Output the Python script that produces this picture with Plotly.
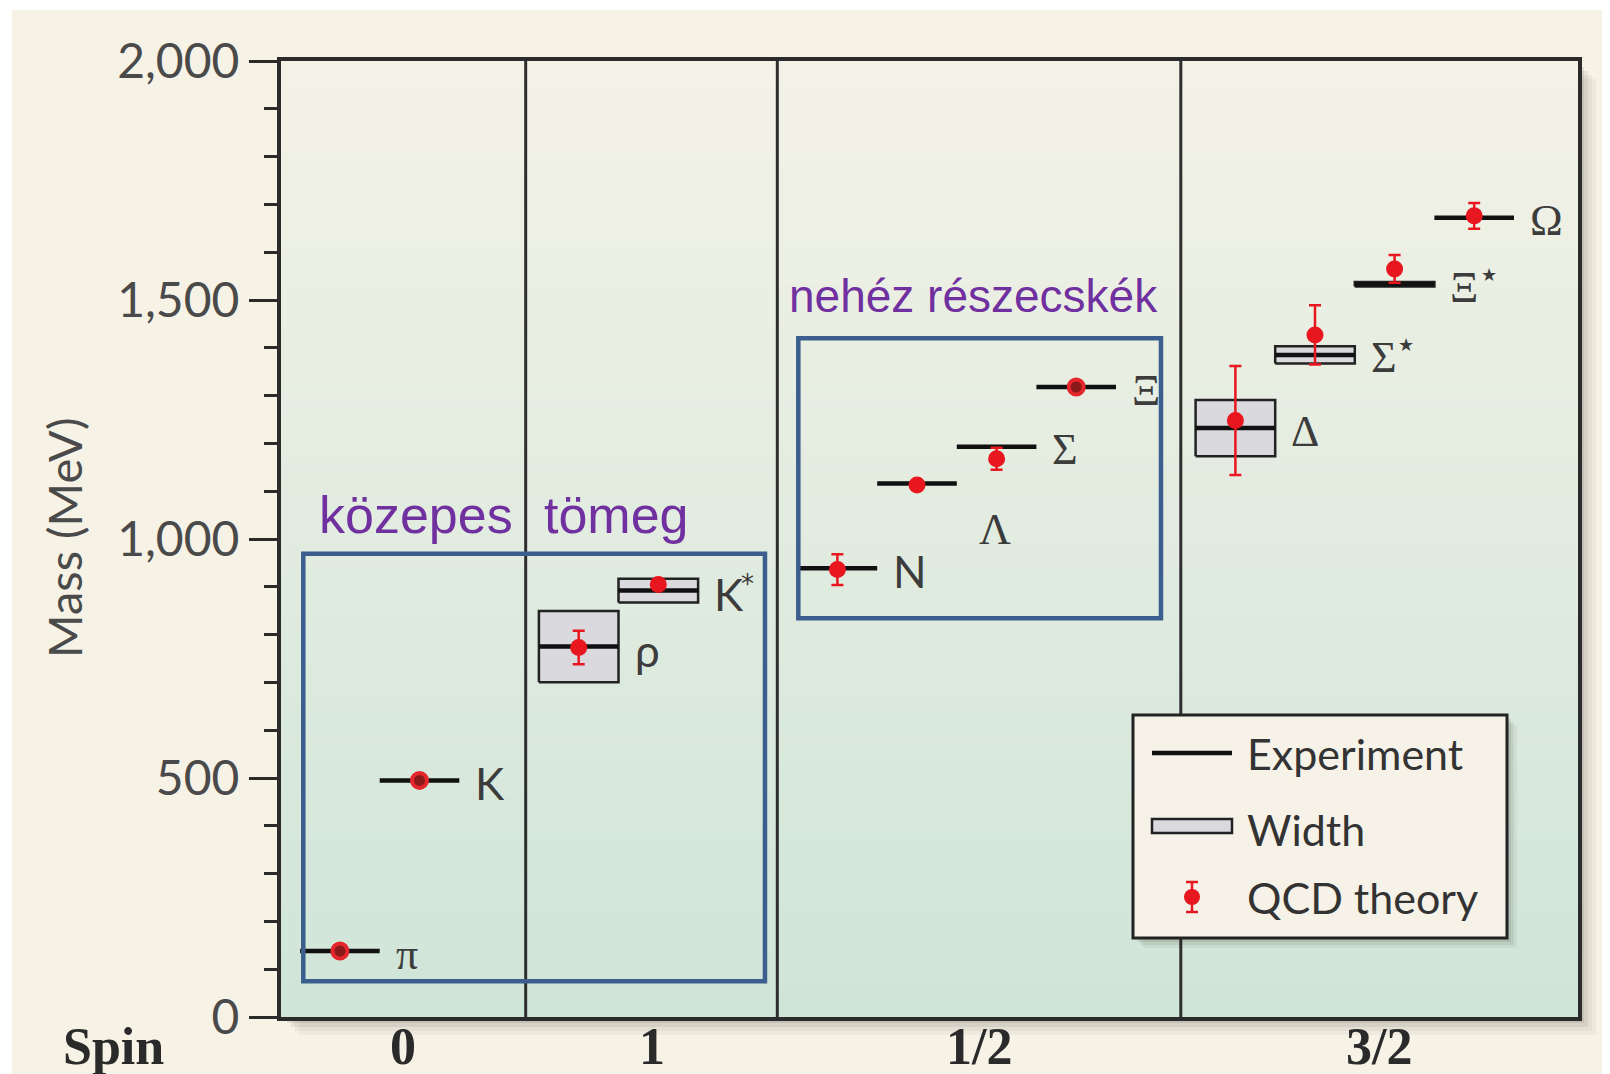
import plotly.graph_objects as go

# ---------------- data ----------------
particles = ["π", "K", "ρ", "K*", "N", "Λ", "Σ", "Ξ", "Δ", "Σ*", "Ξ*", "Ω"]
slot_pos = [0, 1, 3, 4, 6.25, 7.25, 8.25, 9.25, 11.25, 12.25, 13.25, 14.25]
exp_mass = [138, 495, 775, 892, 939, 1116, 1193, 1318, 1232, 1385, 1533, 1672]
exp_width = [0, 0, 149, 50, 0, 0, 0, 0, 118, 36, 9, 0]
qcd_mass = [138, 495, 773, 905, 936, 1113, 1168, 1318, 1248, 1427, 1565, 1676]
qcd_err = [0, 0, 35, 0, 32, 0, 23, 0, 114, 62, 29, 27]
ring_particles = ["π", "K", "Ξ"]
serif_labels = ["π", "Λ", "Σ", "Ξ", "Δ", "Σ*", "Ξ*", "Ω"]

spin_labels = ["0", "1", "1/2", "3/2"]
spin_dividers = [2.334, 5.495, 10.564]
x_range = [-0.74, 15.554]
y_range = [0, 2000]

legend_labels = ["Experiment", "Width", "QCD theory"]

# figure geometry (screen pixels; page body adds an 8px offset)
W, H = 1610, 1074
OFF = 8
SL, SR, ST, SB = 281, 1578, 61, 1017


def PX(x):
    return (x - SL) / (SR - SL)


def PY(y):
    return (SB - y) / (SB - ST)


HALF = 0.5

fig = go.Figure()

# width boxes
bx, by = [], []
for xc, m, w in zip(slot_pos, exp_mass, exp_width):
    if w > 0:
        bx += [xc - HALF, xc + HALF, xc + HALF, xc - HALF, xc - HALF, None]
        by += [m - w / 2, m - w / 2, m + w / 2, m + w / 2, m - w / 2, None]
fig.add_trace(go.Scatter(x=bx, y=by, mode="lines", fill="toself",
                         fillcolor="#D9D9DE", line=dict(color="#222222", width=2.5),
                         hoverinfo="skip", showlegend=False))

# experiment lines
lx, ly = [], []
for xc, m in zip(slot_pos, exp_mass):
    lx += [xc - HALF, xc + HALF, None]
    ly += [m, m, None]
fig.add_trace(go.Scatter(x=lx, y=ly, mode="lines",
                         line=dict(color="#111111", width=4.5),
                         hoverinfo="skip", showlegend=False))

# QCD theory (filled dots with error bars, rings for the input states)
fx, fy, fe = [], [], []
rx, ry = [], []
for p, xc, m, e in zip(particles, slot_pos, qcd_mass, qcd_err):
    if p in ring_particles:
        rx.append(xc)
        ry.append(m)
    else:
        fx.append(xc)
        fy.append(m)
        fe.append(e)
RED = "#E8161E"
fig.add_trace(go.Scatter(x=fx, y=fy, mode="markers",
                         marker=dict(color=RED, size=17, line=dict(width=0)),
                         error_y=dict(type="data", array=fe, visible=True,
                                      color=RED, thickness=2.5, width=6),
                         showlegend=False))
fig.add_trace(go.Scatter(x=rx, y=ry, mode="markers",
                         marker=dict(color="#8A1A1A", size=15, symbol="circle",
                                     line=dict(width=4, color="#E5262C")),
                         showlegend=False))

shapes = []
# cream paper background (white border at top/left)
shapes.append(dict(type="rect", xref="paper", yref="paper",
                   x0=PX(12), x1=PX(W + 30), y0=PY(H + 30), y1=PY(10),
                   fillcolor="#F6F2E6", line=dict(width=0), layer="below"))
# plot shadow
for off, a in [(18, 0.04), (14, 0.05), (10, 0.07), (6, 0.09), (3, 0.12)]:
    shapes.append(dict(type="rect", xref="paper", yref="paper",
                       x0=PX(SL + off), x1=PX(SR + off), y0=PY(SB + off), y1=PY(ST + off),
                       fillcolor=f"rgba(40,35,25,{a})", line=dict(width=0), layer="below"))
# gradient plot background
NB = 60
top_c = (244, 242, 231)
bot_c = (207, 229, 216)
for i in range(NB):
    t = (i + 0.5) / NB
    c = tuple(int(round(top_c[k] * (1 - t) + bot_c[k] * t)) for k in range(3))
    shapes.append(dict(type="rect", xref="paper", yref="paper",
                       x0=0, x1=1, y0=1 - (i + 1) / NB - 0.001, y1=1 - i / NB,
                       fillcolor=f"rgb{c}", line=dict(width=0), layer="below"))
# spin dividers
for d in spin_dividers:
    shapes.append(dict(type="line", xref="x", yref="paper", x0=d, x1=d, y0=0, y1=1,
                       line=dict(color="#2E2E2E", width=3), layer="below"))

# blue highlight boxes
BLUE = "#3B5E8E"
shapes.append(dict(type="rect", xref="x", yref="y", x0=-0.46, x1=5.34, y0=75, y1=969,
                   line=dict(color=BLUE, width=4.5), layer="above"))
shapes.append(dict(type="rect", xref="x", yref="y", x0=5.759, x1=10.315, y0=834, y1=1420,
                   line=dict(color=BLUE, width=4.5), layer="above"))

# legend box
for off, a in [(10, 0.05), (7, 0.07), (4, 0.10)]:
    shapes.append(dict(type="rect", xref="paper", yref="paper",
                       x0=PX(1133 + off), x1=PX(1507 + off), y0=PY(938 + off), y1=PY(715 + off),
                       fillcolor=f"rgba(40,35,25,{a})", line=dict(width=0), layer="above"))
shapes.append(dict(type="rect", xref="paper", yref="paper",
                   x0=PX(1133), x1=PX(1507), y0=PY(938), y1=PY(715),
                   fillcolor="#F6F2E8", line=dict(color="#222222", width=3), layer="above"))
shapes.append(dict(type="line", xref="paper", yref="paper",
                   x0=PX(1152), x1=PX(1232), y0=PY(753), y1=PY(753),
                   line=dict(color="#111111", width=4.5), layer="above"))
shapes.append(dict(type="rect", xref="paper", yref="paper",
                   x0=PX(1152), x1=PX(1232), y0=PY(833), y1=PY(819),
                   fillcolor="#D9D9DE", line=dict(color="#222222", width=2.5), layer="above"))
shapes.append(dict(type="line", xref="paper", yref="paper",
                   x0=PX(1192), x1=PX(1192), y0=PY(912), y1=PY(882),
                   line=dict(color=RED, width=2.5), layer="above"))
for yy in (882, 912):
    shapes.append(dict(type="line", xref="paper", yref="paper",
                       x0=PX(1186), x1=PX(1198), y0=PY(yy), y1=PY(yy),
                       line=dict(color=RED, width=2.5), layer="above"))
shapes.append(dict(type="circle", xref="paper", yref="paper",
                   x0=PX(1184), x1=PX(1200), y0=PY(905), y1=PY(889),
                   fillcolor=RED, line=dict(width=0), layer="above"))

annotations = []
SANS = "Lato, 'Open Sans', sans-serif"
SERIF = "'Liberation Serif', 'DejaVu Serif', serif"
GREY = "#3C3C3C"
star_shift = {"K*": 27, "Σ*": 27, "Ξ*": 31}
for p, xc, m, w in zip(particles, slot_pos, exp_mass, exp_width):
    base = p.replace("*", "")
    fam = SERIF if p in serif_labels else SANS
    dx, dy = (20, -46) if p == "Λ" else (14, -3)
    annotations.append(dict(x=xc + HALF, y=m, xref="x", yref="y", text=base,
                            xanchor="left", yanchor="middle", xshift=dx, yshift=dy,
                            showarrow=False, font=dict(family=fam, size=44, color=GREY)))
    if p.endswith("*"):
        star = "*" if p == "K*" else "★"
        annotations.append(dict(x=xc + HALF, y=m, xref="x", yref="y", text=star,
                                xanchor="left", yanchor="middle",
                                xshift=dx + star_shift[p], yshift=dy + (10 if p == "K*" else 13),
                                showarrow=False,
                                font=dict(family="'DejaVu Sans', sans-serif",
                                          size=26 if p == "K*" else 18, color=GREY)))

PURPLE = "#7030A0"
ARIAL = "'Liberation Sans', Arial, sans-serif"
annotations.append(dict(x=0.956, y=1050, xref="x", yref="y", text="közepes", showarrow=False,
                        xanchor="center", yanchor="middle", font=dict(family=ARIAL, size=52, color=PURPLE)))
annotations.append(dict(x=3.475, y=1050, xref="x", yref="y", text="tömeg", showarrow=False,
                        xanchor="center", yanchor="middle", font=dict(family=ARIAL, size=52, color=PURPLE)))
annotations.append(dict(x=7.96, y=1509, xref="x", yref="y", text="nehéz részecskék", showarrow=False,
                        xanchor="center", yanchor="middle", font=dict(family=ARIAL, size=46, color=PURPLE)))

# legend texts
for lab, yy in zip(legend_labels, [753, 829, 897]):
    annotations.append(dict(x=PX(1245), y=PY(yy), xref="paper", yref="paper", text=lab,
                            showarrow=False, xanchor="left", yanchor="middle",
                            font=dict(family=SANS, size=43, color="#333333")))

# axis titles
annotations.append(dict(x=PX(64), y=PY(538), xref="paper", yref="paper", text="Mass (MeV)",
                        textangle=-90, showarrow=False, xanchor="center", yanchor="middle",
                        font=dict(family=SANS, size=47, color="#4A4A4A")))
annotations.append(dict(x=PX(113), y=PY(1046), xref="paper", yref="paper", text="<b>Spin</b>",
                        showarrow=False, xanchor="center", yanchor="middle",
                        font=dict(family=SERIF, size=52, color="#2A2A2A")))

# spin labels centred in each region
edges = [x_range[0]] + spin_dividers + [x_range[1]]
spin_pos = [(edges[i] + edges[i + 1]) / 2 for i in range(len(spin_labels))]
for s, xp in zip(spin_labels, spin_pos):
    annotations.append(dict(x=xp, y=PY(1046), xref="x", yref="paper", text=f"<b>{s}</b>",
                            showarrow=False, xanchor="center", yanchor="middle",
                            font=dict(family=SERIF, size=52, color="#2A2A2A")))

fig.update_layout(
    width=W, height=H,
    margin=dict(l=SL - OFF, r=W - (SR - OFF), t=ST - OFF, b=H - (SB - OFF), pad=0),
    paper_bgcolor="#FFFFFF",
    plot_bgcolor="rgba(0,0,0,0)",
    showlegend=False,
    shapes=shapes,
    annotations=annotations,
    xaxis=dict(range=x_range, showgrid=False, zeroline=False, automargin=False,
               showline=True, mirror=True, linecolor="#2B2B2B", linewidth=4,
               showticklabels=False, ticks=""),
    yaxis=dict(range=y_range, showgrid=False, zeroline=False, automargin=False,
               showline=True, mirror=True, linecolor="#2B2B2B", linewidth=4,
               tickmode="linear", tick0=0, dtick=500, tickformat=",d",
               ticks="outside", ticklen=28, tickwidth=3, tickcolor="#2B2B2B",
               minor=dict(dtick=100, ticks="outside", ticklen=13, tickwidth=3, tickcolor="#2B2B2B"),
               tickfont=dict(family=SANS, size=48, color="#4A4A4A")),
)

fig.write_html("out.html")
